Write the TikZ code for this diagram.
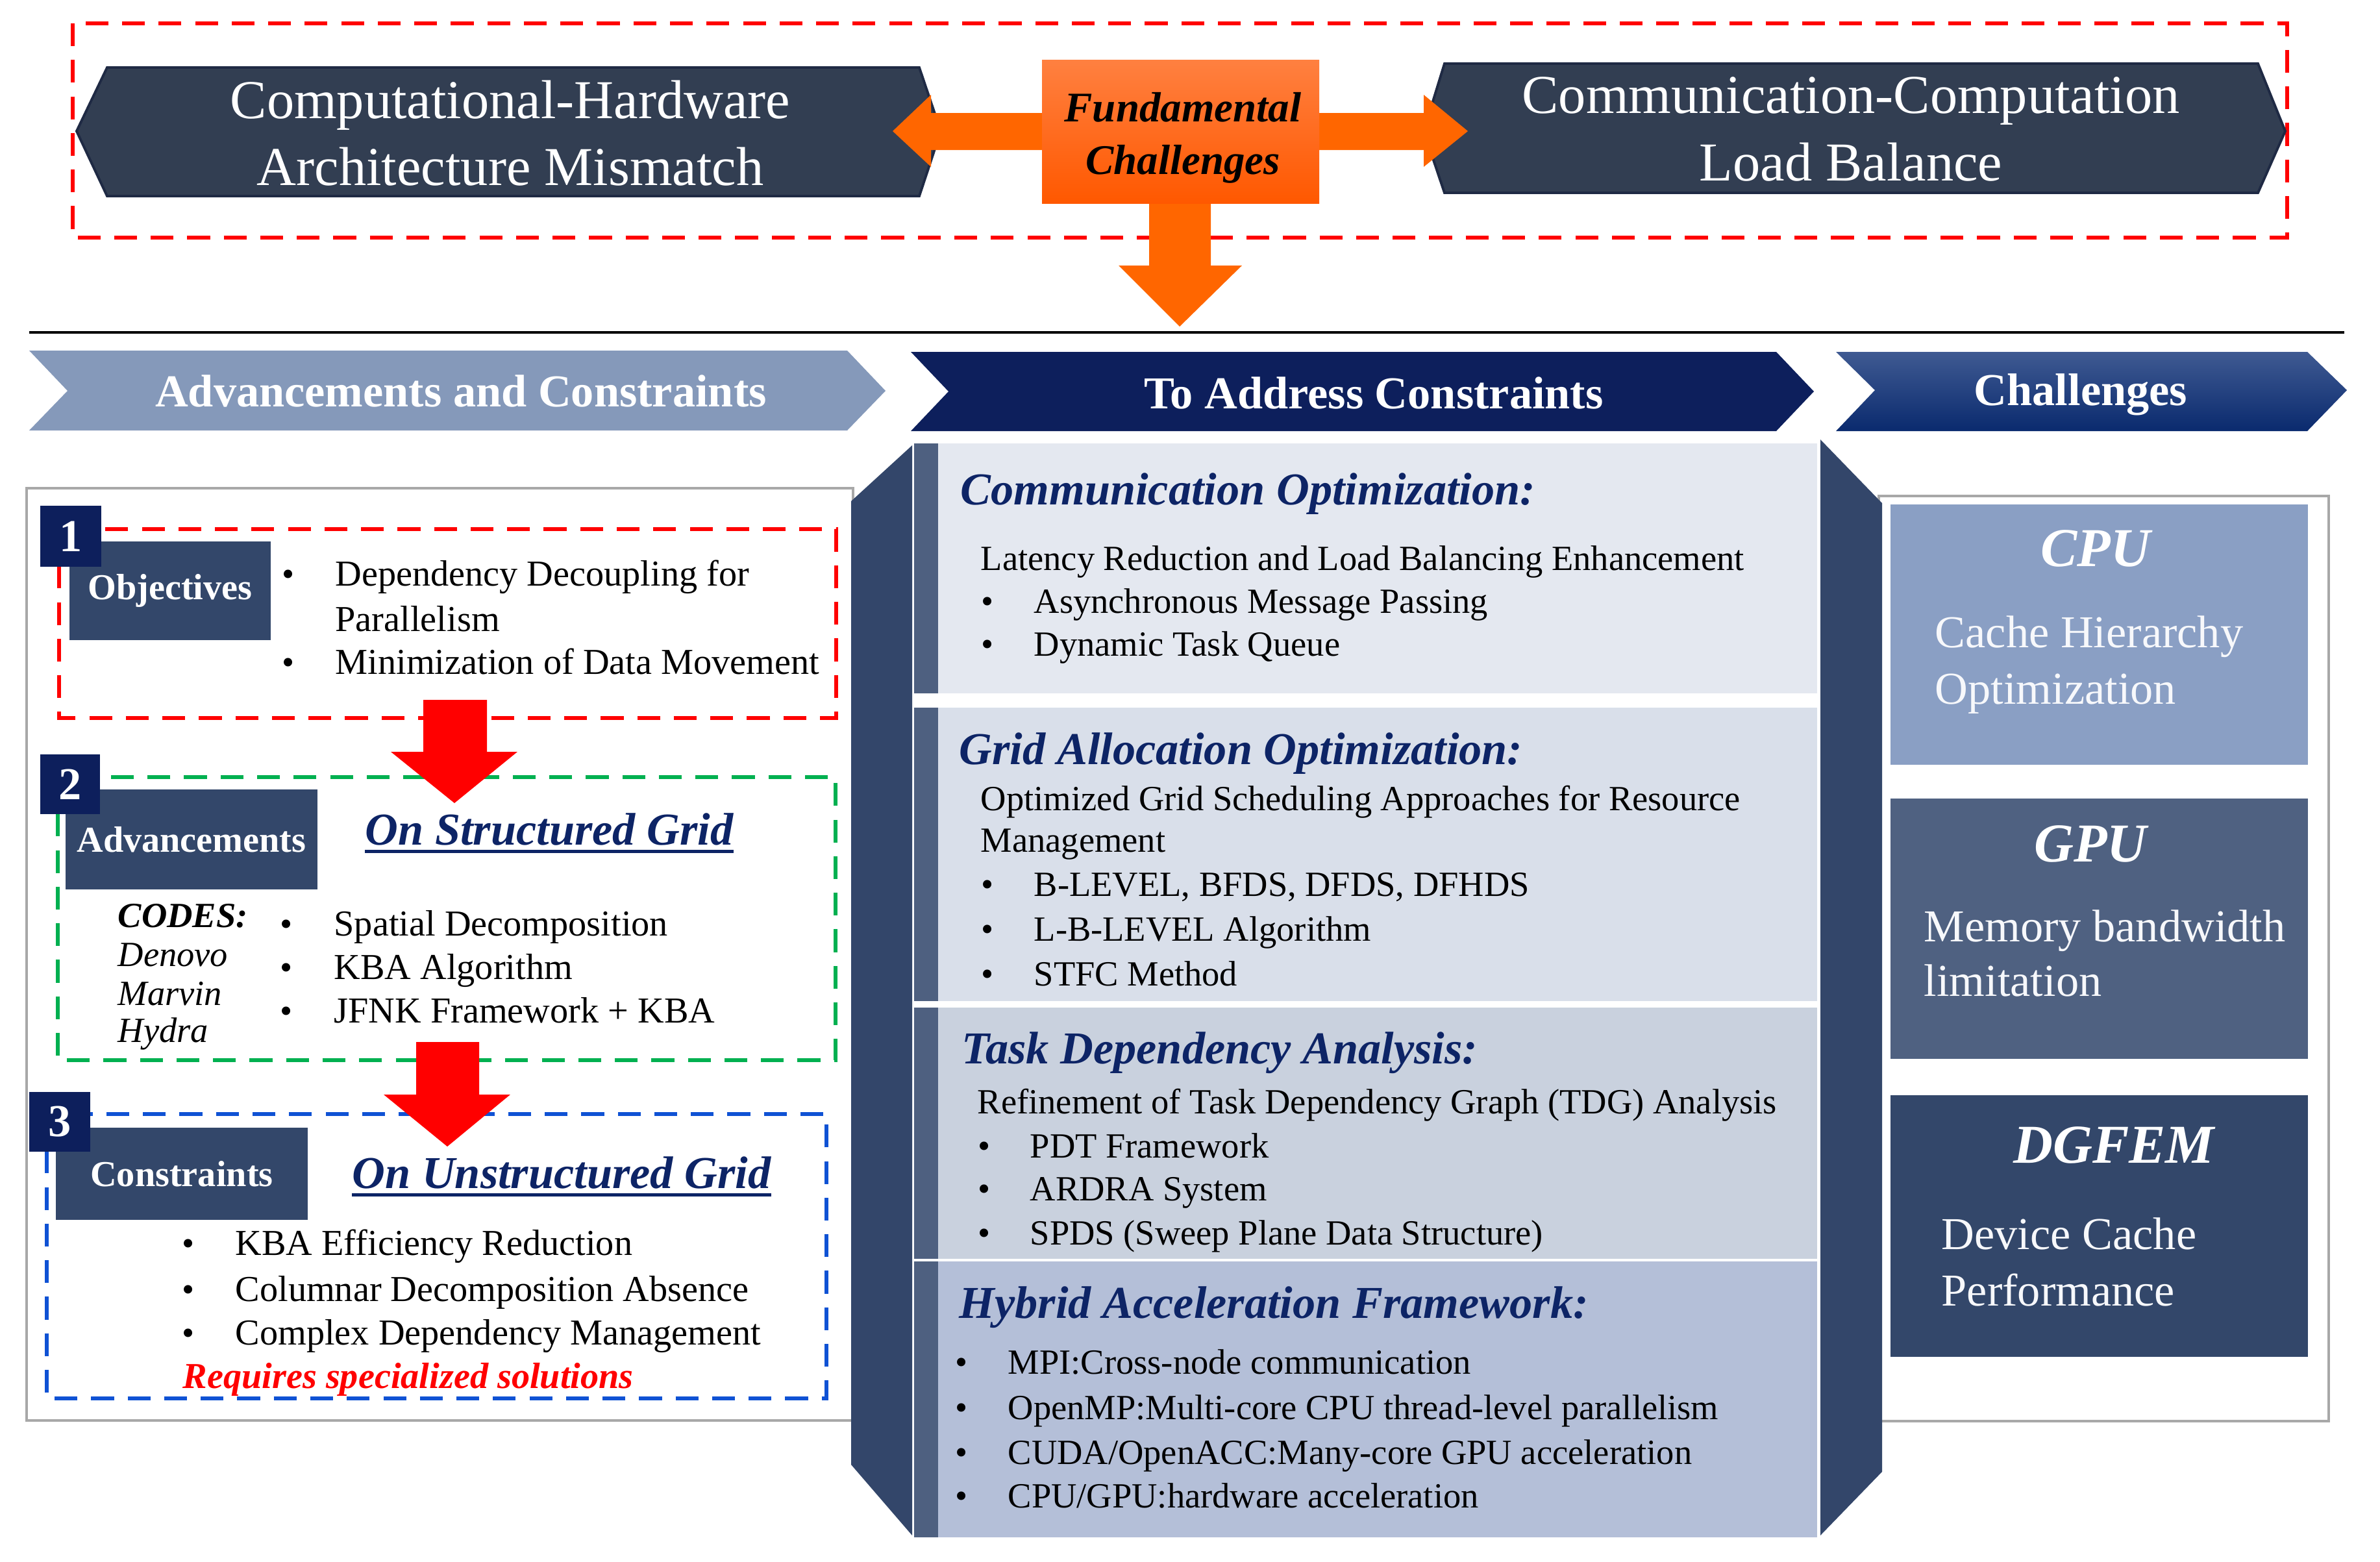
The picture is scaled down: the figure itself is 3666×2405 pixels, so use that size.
\documentclass[tikz,border=0pt]{standalone}
\usepackage{fontspec}
\setmainfont{Liberation Serif}
\newcommand{\fsz}[2]{\fontsize{#1}{#2}\selectfont}
\definecolor{slate}{HTML}{323E52}
\definecolor{slateb}{HTML}{1F2A44}
\definecolor{orng}{HTML}{FF6600}
\definecolor{orngt}{HTML}{FF8040}
\definecolor{orngb}{HTML}{FF5800}
\definecolor{hdrA}{HTML}{8599BA}
\definecolor{navy}{HTML}{0D1F5C}
\definecolor{hdrCt}{HTML}{3F5A92}
\definecolor{hdrCb}{HTML}{0A2A6E}
\definecolor{lbl}{HTML}{33476A}
\definecolor{colmid}{HTML}{33466A}
\definecolor{strip}{HTML}{4E6080}
\definecolor{pA}{HTML}{E4E8F0}
\definecolor{pB}{HTML}{D9DFEA}
\definecolor{pC}{HTML}{C9D1DE}
\definecolor{pD}{HTML}{B4BFD8}
\definecolor{headc}{HTML}{0D2466}
\definecolor{cpu}{HTML}{8A9FC4}
\definecolor{gpu}{HTML}{4F6181}
\definecolor{dgf}{HTML}{33476A}
\definecolor{frame}{HTML}{A8A8A8}
\definecolor{grn}{HTML}{00B050}
\definecolor{blu}{HTML}{0F52D4}
\definecolor{rred}{HTML}{FF0000}
\begin{document}
\begin{tikzpicture}[x=0.01cm,y=-0.01cm,
  txt/.style={anchor=base west,inner sep=0pt,font=\fsz{15.5}{18}},
  ltxt/.style={anchor=base west,inner sep=0pt,font=\fsz{16}{19}},
  bul/.style={anchor=base,inner sep=0pt,font=\fsz{15.5}{18}},
  hdg/.style={anchor=base west,inner sep=0pt,text=headc,font=\fsz{20}{24}\bfseries\itshape},
  hexs/.style={fill=slate,draw=slateb,line width=1.1pt},
  toptxt/.style={text=white,align=center,font=\fsz{24}{29.5}},
  chevtxt/.style={text=white,inner sep=0pt,font=\fsz{20}{24}\bfseries},
  numbox/.style={fill=navy,text=white,font=\fsz{20}{24}\bfseries,minimum width=0.94cm,minimum height=0.94cm,inner sep=0pt},
  lblbox/.style={fill=lbl,text=white,font=\fsz{16}{19}\bfseries,inner sep=0pt},
  frm/.style={draw=frame,line width=1.2pt},
  dsh/.style={line width=1.7pt,dash pattern=on 10pt off 6pt},
  ctitle/.style={text=white,inner sep=0pt,font=\fsz{24}{28}\bfseries\itshape},
  ctext/.style={anchor=base west,inner sep=0pt,text=white!93!cpu,font=\fsz{20}{24}},
]
\useasboundingbox (0,0) rectangle (3666,2405);

% ---------- top band ----------
\draw[rred,dsh,line width=1.5pt] (112,36) rectangle (3523,366);
\draw[hexs] (118,202) -- (165,104) -- (1416,104) -- (1449,202) -- (1416,302) -- (165,302) -- cycle;
\node[toptxt] (chm) at (786,205) {Computational-Hardware\\Architecture Mismatch};
\draw[hexs] (2193,202) -- (2225,98) -- (3478,98) -- (3520,202) -- (3478,297) -- (2225,297) -- cycle;
\node[toptxt] (ccl) at (2851,199) {Communication-Computation\\Load Balance};
\fill[orng] (1610,174) -- (1434,174) -- (1434,146) -- (1375,202) -- (1434,257) -- (1434,231) -- (1610,231) -- cycle;
\fill[orng] (2028,174) -- (2193,174) -- (2193,146) -- (2261,202) -- (2193,257) -- (2193,231) -- (2028,231) -- cycle;
\fill[orng] (1770,308) -- (1770,409) -- (1723,409) -- (1817,503) -- (1913,409) -- (1865,409) -- (1865,308) -- cycle;
\shade[top color=orngt,bottom color=orngb] (1605,92) rectangle (2032,313);
\node[align=center,inner sep=0pt,font=\fsz{18.5}{23}\bfseries\itshape] (fund) at (1822,212) {Fundamental\\Challenges};
\draw[line width=1.3pt] (45,512) -- (3611,512);

% ---------- headers ----------
\fill[hdrA] (45,540) -- (1305,540) -- (1364,602) -- (1305,663) -- (45,663) -- (104,602) -- cycle;
\node[chevtxt] (hA) at (710,602) {Advancements and Constraints};
\fill[navy] (1403,542) -- (2736,542) -- (2794,603) -- (2736,664) -- (1403,664) -- (1461,603) -- cycle;
\node[chevtxt] (hB) at (2116,605) {To Address Constraints};
\shade[top color=hdrCt,bottom color=hdrCb] (2828,542) -- (3554,542) -- (3615,601) -- (3554,664) -- (2828,664) -- (2888,601) -- cycle;
\node[chevtxt] (hC) at (3205,608) {Challenges};

% ---------- left column ----------
\draw[frm] (41,752) rectangle (1314,2188);
% block 1
\draw[rred,dsh] (91,815) rectangle (1288,1106);
\node[lblbox,minimum width=3.10cm,minimum height=1.51cm] (obj) at (262,910) {Objectives};
\node[numbox] (n1) at (109,826) {1};
\node[bul] (b11) at (444,902) {\textbullet};
\node[ltxt] (t11) at (516,902) {Dependency Decoupling for};
\node[ltxt] (t12) at (516,972) {Parallelism};
\node[bul] (b12) at (444,1038) {\textbullet};
\node[ltxt] (t13) at (516,1038) {Minimization of Data Movement};
% block 2
\draw[grn,dsh] (89,1197) rectangle (1287,1633);
\fill[rred] (652,1078) -- (750,1078) -- (750,1158) -- (797,1158) -- (700,1237) -- (602,1158) -- (652,1158) -- cycle;
\node[lblbox,minimum width=3.87cm,minimum height=1.53cm] (adv) at (295,1293) {Advancements};
\node[numbox,minimum height=0.92cm,minimum width=0.92cm] (n2) at (108,1208) {2};
\node[hdg] (osg) at (562,1301) {On Structured Grid};
\draw[headc,line width=1.5pt] ([yshift=-3pt]osg.base west) -- ([yshift=-3pt]osg.base east);
\node[ltxt,font=\fsz{15.5}{18}\bfseries\itshape] (codes) at (181,1428) {CODES:};
\node[ltxt,font=\fsz{15.5}{18}\itshape] (den) at (181,1488) {Denovo};
\node[ltxt,font=\fsz{15.5}{18}\itshape] (mar) at (181,1548) {Marvin};
\node[ltxt,font=\fsz{15.5}{18}\itshape] (hyd) at (181,1605) {Hydra};
\node[bul] (b21) at (441,1441) {\textbullet};
\node[ltxt] (t21) at (514,1441) {Spatial Decomposition};
\node[bul] (b22) at (441,1508) {\textbullet};
\node[ltxt] (t22) at (514,1508) {KBA Algorithm};
\node[bul] (b23) at (441,1575) {\textbullet};
\node[ltxt] (t23) at (514,1575) {JFNK Framework + KBA};
% block 3
\draw[blu,dsh] (72,1716) rectangle (1273,2154);
\fill[rred] (641,1605) -- (738,1605) -- (738,1686) -- (786,1686) -- (689,1766) -- (591,1686) -- (641,1686) -- cycle;
\node[lblbox,minimum width=3.87cm,minimum height=1.41cm] (con) at (280,1808) {Constraints};
\node[numbox,minimum height=0.92cm,minimum width=0.93cm] (n3) at (92,1728) {3};
\node[hdg] (oug) at (542,1830) {On Unstructured Grid};
\draw[headc,line width=1.5pt] ([yshift=-3pt]oug.base west) -- ([yshift=-3pt]oug.base east);
\node[bul] (b31) at (290,1933) {\textbullet};
\node[ltxt] (t31) at (362,1933) {KBA Efficiency Reduction};
\node[bul] (b32) at (290,2004) {\textbullet};
\node[ltxt] (t32) at (362,2004) {Columnar Decomposition Absence};
\node[bul] (b33) at (290,2071) {\textbullet};
\node[ltxt] (t33) at (362,2071) {Complex Dependency Management};
\node[ltxt,text=rred,font=\fsz{16}{19}\bfseries\itshape] (req) at (281,2138) {Requires specialized solutions};

% ---------- right column frame ----------
\draw[frm] (2894,764) rectangle (3587,2189);

% ---------- middle column ----------
\fill[colmid] (1311,772) -- (1405,686) -- (1405,2365) -- (1311,2256) -- cycle;
\fill[colmid] (2804,677) -- (2899,775) -- (2899,2267) -- (2804,2365) -- cycle;
\fill[strip] (1408,683) rectangle (1445,1068);
\fill[pA] (1445,683) rectangle (2799,1068);
\fill[strip] (1408,1090) rectangle (1445,1542);
\fill[pB] (1445,1090) rectangle (2799,1542);
\fill[strip] (1408,1552) rectangle (1445,1939);
\fill[pC] (1445,1552) rectangle (2799,1939);
\fill[strip] (1408,1943) rectangle (1445,2368);
\fill[pD] (1445,1943) rectangle (2799,2368);

\node[hdg] (h1) at (1479,777) {Communication Optimization:};
\node[txt] (m11) at (1510,878) {Latency Reduction and Load Balancing Enhancement};
\node[bul] (mb12) at (1521,944) {\textbullet};
\node[txt] (m12) at (1592,944) {Asynchronous Message Passing};
\node[bul] (mb13) at (1521,1010) {\textbullet};
\node[txt] (m13) at (1592,1010) {Dynamic Task Queue};

\node[hdg] (h2) at (1477,1177) {Grid Allocation Optimization:};
\node[txt] (m21) at (1510,1248) {Optimized Grid Scheduling Approaches for Resource};
\node[txt] (m22) at (1510,1312) {Management};
\node[bul] (mb23) at (1521,1380) {\textbullet};
\node[txt] (m23) at (1592,1380) {B-LEVEL, BFDS, DFDS, DFHDS};
\node[bul] (mb24) at (1521,1449) {\textbullet};
\node[txt] (m24) at (1592,1449) {L-B-LEVEL Algorithm};
\node[bul] (mb25) at (1521,1518) {\textbullet};
\node[txt] (m25) at (1592,1518) {STFC Method};

\node[hdg] (h3) at (1481,1638) {Task Dependency Analysis:};
\node[txt] (m31) at (1505,1715) {Refinement of Task Dependency Graph (TDG) Analysis};
\node[bul] (mb32) at (1516,1783) {\textbullet};
\node[txt] (m32) at (1586,1783) {PDT Framework};
\node[bul] (mb33) at (1516,1849) {\textbullet};
\node[txt] (m33) at (1586,1849) {ARDRA System};
\node[bul] (mb34) at (1516,1917) {\textbullet};
\node[txt] (m34) at (1586,1917) {SPDS (Sweep Plane Data Structure)};

\node[hdg] (h4) at (1477,2030) {Hybrid Acceleration Framework:};
\node[bul] (mb41) at (1481,2116) {\textbullet};
\node[txt] (m41) at (1552,2116) {MPI:Cross-node communication};
\node[bul] (mb42) at (1481,2186) {\textbullet};
\node[txt] (m42) at (1552,2186) {OpenMP:Multi-core CPU thread-level parallelism};
\node[bul] (mb43) at (1481,2255) {\textbullet};
\node[txt] (m43) at (1552,2255) {CUDA/OpenACC:Many-core GPU acceleration};
\node[bul] (mb44) at (1481,2322) {\textbullet};
\node[txt] (m44) at (1552,2322) {CPU/GPU:hardware acceleration};

% ---------- right column ----------
\fill[cpu] (2912,777) rectangle (3555,1178);
\fill[gpu] (2912,1230) rectangle (3555,1631);
\fill[dgf] (2912,1687) rectangle (3555,2090);
\node[ctitle] (cpuT) at (3228,845) {CPU};
\node[ctext] (cpu1) at (2980,997) {Cache Hierarchy};
\node[ctext] (cpu2) at (2980,1084) {Optimization};
\node[ctitle] (gpuT) at (3220,1300) {GPU};
\node[ctext] (gpu1) at (2963,1450) {Memory bandwidth};
\node[ctext] (gpu2) at (2963,1534) {limitation};
\node[ctitle] (dgT) at (3256,1764) {DGFEM};
\node[ctext] (dg1) at (2990,1924) {Device Cache};
\node[ctext] (dg2) at (2990,2011) {Performance};
\end{tikzpicture}
\end{document}
